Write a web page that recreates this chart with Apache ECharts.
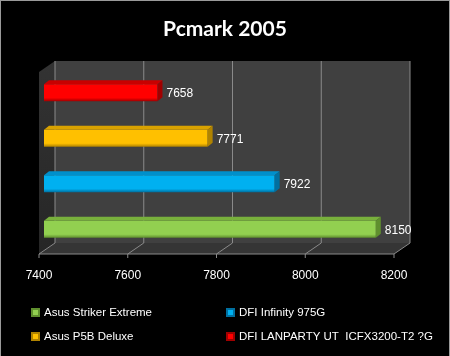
<!DOCTYPE html>
<html>
<head>
<meta charset="utf-8">
<script src="https://cdn.jsdelivr.net/npm/echarts@6/dist/echarts.min.js"></script>
<style>
html,body{margin:0;padding:0;background:#000;}
#c{width:450px;height:356px;box-sizing:border-box;border-top:1px solid #9a9a9a;border-left:1px solid #9a9a9a;border-right:1px solid #9a9a9a;}
</style>
</head>
<body>
<div id="c"></div>
<script>
// ---- data ----
const TITLE = 'Pcmark 2005';
const CATEGORIES = ['Asus Striker Extreme', 'DFI Infinity 975G', 'Asus P5B Deluxe', 'DFI LANPARTY UT  ICFX3200-T2 ?G'];
const VALUES = [8150, 7922, 7771, 7658];
const COLORS = ['#92d050', '#00b0f0', '#ffc000', '#ff0000'];
const TOP_COLORS = ['#78b03c', '#0090cc', '#d9a200', '#c80000'];
const SIDE_COLORS = ['#5f8f2e', '#0070a0', '#b08300', '#a00000'];
const TICKS = [7400, 7600, 7800, 8000, 8200];
const X_MIN = 7400, X_MAX = 8200, X_STEP = 200;

// depth offsets (back wall / front plane relative to bar plane)
const BACK = [12, -8];
const FRONT = [-4, 3];
const BAR_D = [5, -4];

const chart = echarts.init(document.getElementById('c'));

function wallsRender(params, api) {
  const cs = params.coordSys;
  const x = cs.x, y = cs.y, w = cs.width, h = cs.height;
  const children = [];
  children.push({type:'polygon', shape:{points:[
    [x+FRONT[0], y+FRONT[1]], [x+BACK[0], y+BACK[1]], [x+BACK[0], y+h+BACK[1]], [x+FRONT[0], y+h+FRONT[1]]
  ]}, style:{fill:new echarts.graphic.LinearGradient(0,0,0,1,[{offset:0,color:'#333'},{offset:1,color:'#262626'}])}});
  children.push({type:'rect', shape:{x:x+BACK[0], y:y+BACK[1], width:w, height:h}, style:{fill:'#404040'}});
  children.push({type:'polygon', shape:{points:[
    [x+FRONT[0], y+h+FRONT[1]], [x+w+FRONT[0], y+h+FRONT[1]], [x+w+BACK[0], y+h+BACK[1]], [x+BACK[0], y+h+BACK[1]]
  ]}, style:{fill:'#353535'}});
  TICKS.forEach(t => {
    const px = api.coord([t, 0])[0];
    children.push({type:'line', shape:{x1:px+BACK[0], y1:y+BACK[1], x2:px+BACK[0], y2:y+h+BACK[1]}, style:{stroke:'#8a8a8a', lineWidth:1}});
    children.push({type:'line', shape:{x1:px+BACK[0], y1:y+h+BACK[1], x2:px+FRONT[0], y2:y+h+FRONT[1]}, style:{stroke:'#8a8a8a', lineWidth:1}});
    children.push({type:'line', shape:{x1:px+FRONT[0], y1:y+h+FRONT[1], x2:px+FRONT[0], y2:y+h+FRONT[1]+4}, style:{stroke:'#8a8a8a', lineWidth:1}});
  });
  const p0 = api.coord([X_MIN, 0])[0], p1 = api.coord([X_MAX, 0])[0];
  children.push({type:'line', shape:{x1:p0+FRONT[0], y1:y+h+FRONT[1], x2:p1+FRONT[0], y2:y+h+FRONT[1]}, style:{stroke:'#8a8a8a', lineWidth:1}});
  return {type:'group', children};
}

function barRender(i) {
  return function(params, api) {
    const v = api.value(0), c = api.value(1);
    const s = api.coord([X_MIN, c]);
    const e = api.coord([v, c]);
    const bw = api.size([0, 1])[1] * 0.37;
    const y0 = s[1] - bw/2 + 1, y1 = s[1] + bw/2 + 1;
    const x0 = s[0] + 1, x1 = e[0];
    return {type:'group', children:[
      {type:'rect', shape:{x:x0, y:y0, width:x1-x0, height:y1-y0},
        style:{fill:new echarts.graphic.LinearGradient(0,0,0,1,[{offset:0,color:COLORS[i]},{offset:0.8,color:COLORS[i]},{offset:1,color:SIDE_COLORS[i]}])}},
      {type:'polygon', shape:{points:[[x0,y0],[x1,y0],[x1+BAR_D[0],y0+BAR_D[1]],[x0+BAR_D[0],y0+BAR_D[1]]]}, style:{fill:TOP_COLORS[i]}},
      {type:'polygon', shape:{points:[[x1,y0],[x1+BAR_D[0],y0+BAR_D[1]],[x1+BAR_D[0],y1+BAR_D[1]],[x1,y1]]}, style:{fill:SIDE_COLORS[i]}},
      {type:'text', style:{x:x1+BAR_D[0]+4, y:(y0+y1)/2+1, text:String(v), fill:'#fff', font:'12px "Liberation Sans", Arial, sans-serif', align:'left', verticalAlign:'middle'}}
    ]};
  };
}

const series = [{
  type:'custom', name:'_walls', silent:true, z:1,
  data:[[X_MIN, 0]],
  renderItem: wallsRender
}];
CATEGORIES.forEach((cat, i) => {
  series.push({
    type:'custom', name:cat, z:5,
    itemStyle:{color:COLORS[i], borderColor:SIDE_COLORS[i], borderWidth:1},
    data:[[VALUES[i], i]],
    encode:{x:0, y:1},
    renderItem: barRender(i)
  });
});

chart.setOption({
  backgroundColor:'#000',
  animation:false,
  title:{text:TITLE, left:'center', top:13, textStyle:{color:'#fff', fontFamily:'Lato', fontWeight:'bold', fontSize:21}},
  grid:{left:42, right:51, top:68, bottom:105},
  xAxis:{type:'value', min:X_MIN, max:X_MAX, interval:X_STEP,
    axisLine:{show:false}, axisTick:{show:false}, splitLine:{show:false},
    axisLabel:{color:'#fff', fontFamily:'Liberation Sans', fontSize:12, margin:19, padding:[0,8,0,0], formatter:v => String(v)}},
  yAxis:{type:'category', data:CATEGORIES, axisLine:{show:false}, axisTick:{show:false}, axisLabel:{show:false}, splitLine:{show:false}},
  legend:{data:CATEGORIES, left:25, top:298, width:425, itemWidth:7, itemHeight:7, itemGap:7,
    icon:'rect',
    textStyle:{color:'#fff', fontFamily:'Liberation Sans', fontSize:11.5, width:175, lineHeight:17, overflow:'none'}},
  series
});
</script>
</body>
</html>
